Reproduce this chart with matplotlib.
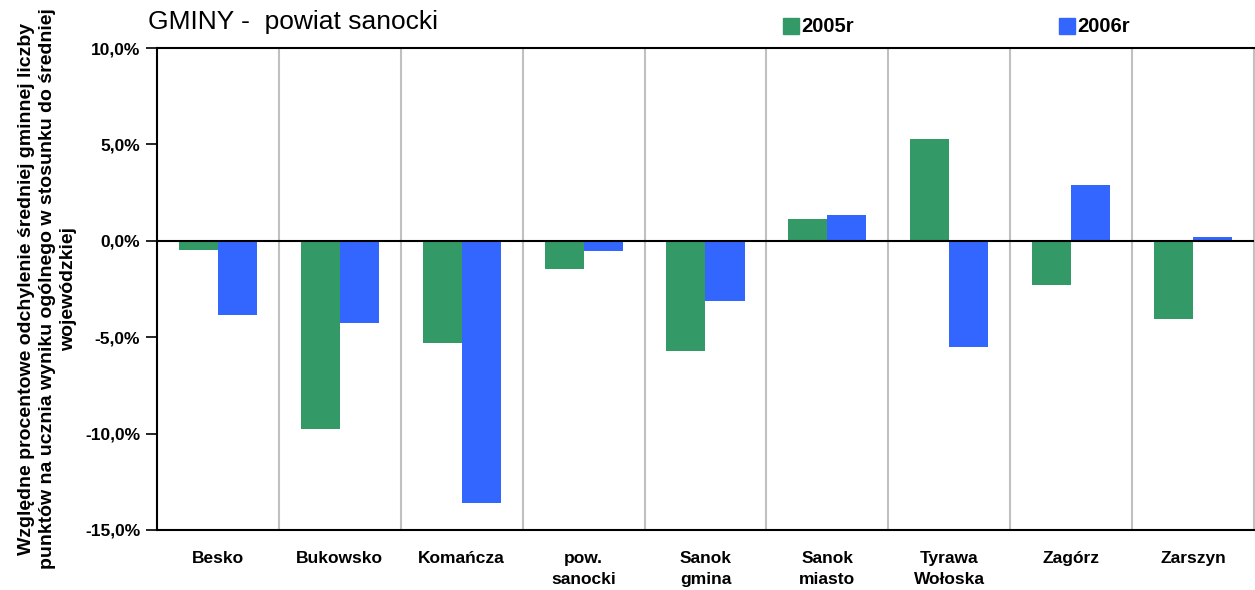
import numpy as np
import matplotlib.pyplot as plt
from matplotlib.ticker import FuncFormatter, FixedLocator

plt.rcParams['font.family'] = ['Liberation Sans', 'DejaVu Sans']

gminy = ['Besko', 'Bukowsko', 'Komańcza', 'pow.\nsanocki', 'Sanok\ngmina',
         'Sanok\nmiasto', 'Tyrawa\nWołoska', 'Zagórz', 'Zarszyn']
r2005 = [-0.46, -9.75, -5.29, -1.45, -5.70, 1.14, 5.29, -2.28, -4.03]
r2006 = [-3.84, -4.25, -13.59, -0.52, -3.10, 1.35, -5.50, 2.90, 0.20]

green = '#339966'
blue = '#3366FF'

fig = plt.figure(figsize=(12.55, 5.9), dpi=100)
ax = fig.add_axes([0.1251, 0.1017, 0.8741, 0.8169])

x = np.arange(len(gminy))
w = 0.32
ax.bar(x - w / 2, r2005, w, color=green, zorder=2)
ax.bar(x + w / 2, r2006, w, color=blue, zorder=2)

ax.set_xlim(-0.5, len(gminy) - 0.5)
ax.set_ylim(-15, 10)
ax.set_yticks([-15, -10, -5, 0, 5, 10])
ax.yaxis.set_major_formatter(FuncFormatter(lambda v, p: f'{v:.1f}%'.replace('.', ',')))
ax.set_xticks(x)
ax.set_xticklabels(gminy, fontsize=12.5, fontweight='bold', linespacing=1.5)
ax.tick_params(axis='x', length=0, pad=15)
ax.tick_params(axis='y', direction='out', length=8, width=1.2, labelsize=12.5, pad=4)
for lbl in ax.get_yticklabels():
    lbl.set_fontweight('bold')

ax.xaxis.set_minor_locator(FixedLocator(np.arange(0.5, len(gminy) - 0.5, 1)))
ax.tick_params(axis='x', which='minor', length=0)
ax.grid(True, which='minor', axis='x', color='#c0c0c0', lw=1.5, zorder=1)

ax.axhline(0, color='black', lw=1.5, zorder=3)
for s in ['left', 'top', 'bottom']:
    ax.spines[s].set_linewidth(1.5)
    ax.spines[s].set_color('black')
ax.spines['right'].set_color('#c0c0c0')
ax.spines['right'].set_linewidth(1.5)

ax.set_ylabel('Względne procentowe odchylenie średniej gminnej liczby\n'
              'punktów na ucznia wyniku ogólnego w stosunku do średniej\n'
              'wojewódzkiej', fontsize=14, fontweight='bold', linespacing=1.3)
ax.yaxis.set_label_coords(-0.073, 0.50)

fig.text(0.118, 0.962, 'GMINY -  powiat sanocki', fontsize=19, va='center', ha='left')

# legend
fig.patches.append(plt.Rectangle((783 / 1255, 1 - 34 / 590), 16 / 1255, 16 / 590,
                                 transform=fig.transFigure, color=green))
fig.text(801 / 1255, 1 - 26 / 590, '2005r', fontsize=14.5, fontweight='bold', va='center')
fig.patches.append(plt.Rectangle((1059 / 1255, 1 - 34 / 590), 16 / 1255, 16 / 590,
                                 transform=fig.transFigure, color=blue))
fig.text(1077 / 1255, 1 - 26 / 590, '2006r', fontsize=14.5, fontweight='bold', va='center')

fig.savefig('out.png', dpi=100)
